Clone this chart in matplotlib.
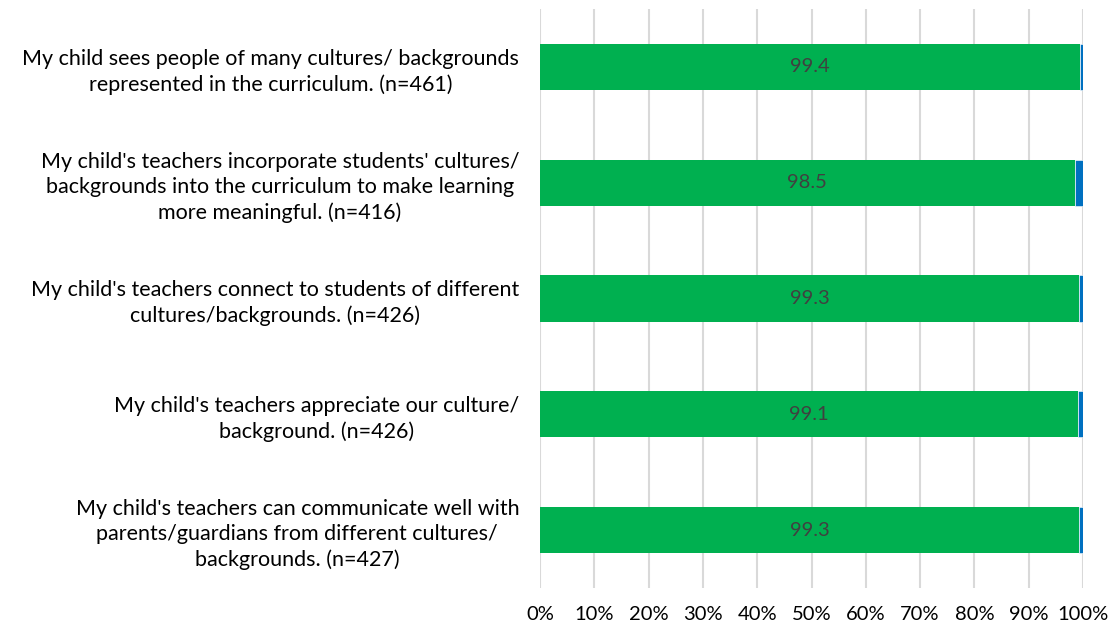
import matplotlib
matplotlib.use("Agg")
import matplotlib.pyplot as plt
import numpy as np

# Survey items, top to bottom
questions = [
    "My child sees people of many cultures/ backgrounds\nrepresented in the curriculum. (n=461)",
    "My child's teachers incorporate students' cultures/\nbackgrounds into the curriculum to make learning\nmore meaningful. (n=416)",
    "My child's teachers connect to students of different\ncultures/backgrounds. (n=426)",
    "My child's teachers appreciate our culture/\nbackground. (n=426)",
    "My child's teachers can communicate well with\nparents/guardians from different cultures/\nbackgrounds. (n=427)",
]
agree = np.array([99.4, 98.5, 99.3, 99.1, 99.3])
disagree = 100 - agree

plt.rcParams['font.family'] = ['Lato', 'DejaVu Sans']

fig = plt.figure(figsize=(11.13, 6.33), dpi=100)
ax = fig.add_axes([540 / 1113, 1 - 588 / 633, 543 / 1113, 579 / 633])

y = np.arange(len(questions))
ax.barh(y, agree, height=0.4, color='#00B050', zorder=3)
ax.barh(y, disagree, left=agree, height=0.4, color='#0070C0', zorder=3,
        edgecolor='white', linewidth=0.4)

for yi, v in zip(y, agree):
    ax.text(v / 2, yi, f"{v:.1f}", ha='center', va='center',
            fontsize=14.5, color='#404040', zorder=4)

ax.set_xlim(0, 100)
ax.set_ylim(len(questions) - 0.5, -0.5)
ax.set_xticks(np.arange(0, 101, 10))
ax.set_xticklabels([f"{t}%" for t in range(0, 101, 10)], fontsize=14.5)
ax.set_yticks(y)
ax.set_yticklabels(questions, fontsize=15.5, ha='right', multialignment='center',
                   linespacing=1.32)
ax.tick_params(axis='y', length=0, pad=15)
ax.tick_params(axis='x', length=0, pad=13)
ax.grid(axis='x', color='#D9D9D9', linewidth=1.5, zorder=0)
for s in ax.spines.values():
    s.set_visible(False)

fig.savefig("out.png", dpi=100)
